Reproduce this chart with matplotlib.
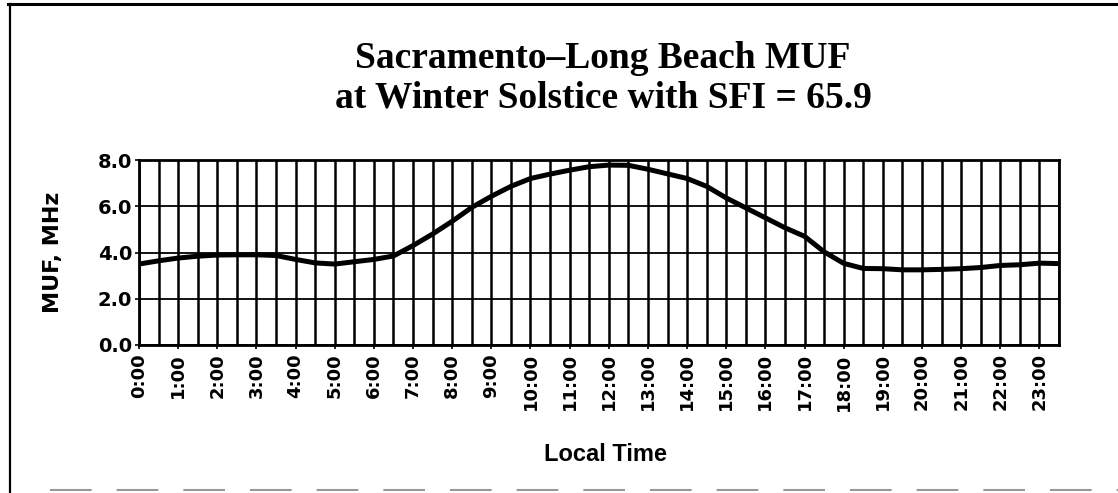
import numpy as np
import matplotlib
matplotlib.use('Agg')
import matplotlib.pyplot as plt
from matplotlib.lines import Line2D

# MUF at half-hour steps, 0:00 .. 23:30 (MHz)
muf = [3.50, 3.64, 3.76, 3.84, 3.89, 3.90, 3.90, 3.87,
       3.70, 3.55, 3.50, 3.60, 3.70, 3.85, 4.30, 4.80,
       5.35, 5.95, 6.43, 6.86, 7.20, 7.39, 7.56, 7.71,
       7.78, 7.77, 7.60, 7.40, 7.20, 6.86, 6.36, 5.93,
       5.50, 5.07, 4.70, 4.03, 3.53, 3.31, 3.30, 3.25,
       3.25, 3.27, 3.30, 3.35, 3.44, 3.47, 3.54, 3.52]
hour_labels = [f"{h}:00" for h in range(24)]
y_ticks = [0.0, 2.0, 4.0, 6.0, 8.0]
title_lines = ["Sacramento\u2013Long Beach MUF",
               "at Winter Solstice with SFI = 65.9"]

W, H = 1118, 493
fig = plt.figure(figsize=(W / 100, H / 100), dpi=100)
ax = fig.add_axes([139 / W, 1 - 345 / H, 920 / W, 185 / H])

x = np.arange(len(muf)) * 0.5
ax.plot(x, muf, color='black', lw=3.6, solid_capstyle='round', zorder=4)

ax.set_xlim(0, 23.5)
ax.set_ylim(0, 8)
ax.set_xticks(np.arange(len(hour_labels)))
ax.set_xticks(np.arange(len(muf)) * 0.5, minor=True)
ax.set_xticklabels(hour_labels, rotation=90, fontsize=13, fontweight='bold',
                   family='DejaVu Sans')
ax.set_yticks(y_ticks)
ax.set_yticklabels([f"{v:.1f}" for v in y_ticks], fontsize=14,
                   fontweight='bold', family='DejaVu Sans')

ax.grid(which='both', axis='x', color='black', lw=1.8, zorder=1)
ax.grid(which='major', axis='y', color='black', lw=1.3, zorder=1)
ax.set_axisbelow(True)
for s in ax.spines.values():
    s.set_linewidth(2.0)
ax.tick_params(axis='y', length=3, width=1.2, pad=2)
ax.tick_params(axis='x', which='major', length=3, width=1.2, pad=3)
ax.tick_params(axis='x', which='minor', length=0)

ax.set_ylabel("MUF, MHz", fontsize=16, fontweight='bold', family='DejaVu Sans')
ax.yaxis.set_label_coords(-0.083, 0.5)
ax.set_xlabel("Local Time", fontsize=17, fontweight='bold',
              family=['Liberation Sans', 'DejaVu Sans'])
ax.xaxis.set_label_coords(0.507, -0.53)

# two-line serif heading
fig.text(603 / W, 1 - 68 / H, title_lines[0], ha='center', va='baseline',
         fontsize=27, fontweight='bold', family=['Liberation Serif', 'DejaVu Serif'])
fig.text(603 / W, 1 - 108 / H, title_lines[1], ha='center', va='baseline',
         fontsize=27, fontweight='bold', family=['Liberation Serif', 'DejaVu Serif'])

# scanned page frame
fig.add_artist(Line2D([10 / W, 10 / W], [0, 1 - 4 / H], transform=fig.transFigure,
                      color='black', lw=1.6))
fig.add_artist(Line2D([8 / W, 1], [1 - 4 / H, 1 - 4 / H], transform=fig.transFigure,
                      color='black', lw=2.2))
fig.add_artist(Line2D([50 / W, 1], [1 - 490 / H, 1 - 490 / H], transform=fig.transFigure,
                      color='0.6', lw=1.5, ls=(0, (20, 12))))

fig.savefig('out.png', dpi=100)
